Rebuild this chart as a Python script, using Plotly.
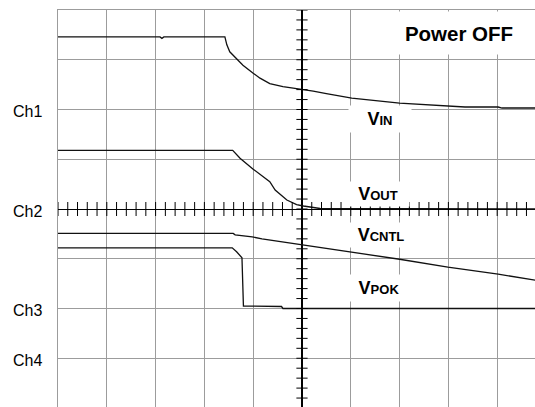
import numpy as np
import plotly.graph_objects as go

# time / level in scope divisions (x: 0 = trigger, y: 0 = center line)
vin_t = [-5.0, -2.91, -2.87, -2.83, -1.58, -1.54, -1.48, -1.34, -1.21, -1.0, -0.86,
         -0.66, -0.39, -0.18, 0.0, 0.23, 0.5, 1.02, 2.0, 2.73, 3.34, 4.02, 4.1, 4.78]
vin_v = [3.46, 3.46, 3.43, 3.46, 3.46, 3.30, 3.16, 3.03, 2.89, 2.73, 2.63,
         2.52, 2.46, 2.43, 2.41, 2.37, 2.32, 2.23, 2.13, 2.09, 2.05, 2.05, 2.03, 2.03]

vout_t = [-5.0, -1.42, -1.27, -1.0, -0.66, -0.55, -0.31, -0.11, 0.03, 0.37, 4.78]
vout_v = [1.18, 1.18, 1.02, 0.80, 0.55, 0.38, 0.18, 0.09, 0.06, 0.01, 0.0]

vcntl_t = [-5.0, -1.41, -1.37, -1.02, -0.82, -0.41, 0.0, 1.02, 2.0, 2.99, 4.02, 4.78]
vcntl_v = [-0.49, -0.49, -0.52, -0.56, -0.60, -0.66, -0.72, -0.86, -1.01, -1.17, -1.31, -1.43]

vpok_t = [-5.0, -1.43, -1.34, -1.24, -1.23, -1.2, -0.42, -0.39, 4.78]
vpok_v = [-0.78, -0.78, -0.86, -0.96, -0.98, -1.95, -1.96, -2.0, -2.0]

channels = ["Ch1", "Ch2", "Ch3", "Ch4"]
channel_levels = [2, 0, -2, -3]

FONT = "Liberation Sans, Arial, sans-serif"
GRID = "#9c9c9c"

fig = go.Figure()

for t, v in [(vin_t, vin_v), (vout_t, vout_v), (vcntl_t, vcntl_v), (vpok_t, vpok_v)]:
    fig.add_trace(go.Scatter(x=t, y=v, mode="lines",
                             line=dict(color="#111111", width=1.3), hoverinfo="skip"))

# minor ticks on the center cross
tx = np.arange(-5, 4.8, 0.2)
ty = np.arange(-4, 4.01, 0.2)
fig.add_trace(go.Scatter(x=tx, y=np.zeros_like(tx), mode="markers", hoverinfo="skip",
                         marker=dict(symbol="line-ns", size=10,
                                     line=dict(color="black", width=1))))
fig.add_trace(go.Scatter(x=np.zeros_like(ty), y=ty, mode="markers", hoverinfo="skip",
                         marker=dict(symbol="line-ew", size=8,
                                     line=dict(color="black", width=1))))

fig.update_xaxes(range=[-5, 4.775], dtick=1, tick0=0, showgrid=True, gridcolor=GRID,
                 gridwidth=1, zeroline=True, zerolinecolor="black", zerolinewidth=1.6,
                 showticklabels=False, ticks="", side="top", showline=True,
                 linecolor=GRID, linewidth=1, fixedrange=True)
fig.update_yaxes(range=[-3.98, 4], dtick=1, tick0=0, showgrid=True, gridcolor=GRID,
                 gridwidth=1, zeroline=True, zerolinecolor="black", zerolinewidth=1.4,
                 showticklabels=False, ticks="", showline=True,
                 linecolor=GRID, linewidth=1, fixedrange=True)

for name, lvl in zip(channels, channel_levels):
    fig.add_annotation(x=-5, y=lvl, text=name, showarrow=False, xanchor="right",
                       xshift=-14, yshift=-2, font=dict(family=FONT, size=16, color="black"))

labels = [
    ("IN", 1.6, 1.81, 26),
    ("OUT", 1.56, 0.30, 24),
    ("CNTL", 1.62, -0.52, 24),
    ("POK", 1.57, -1.58, 26),
]
for sub, x, y, h in labels:
    fig.add_annotation(x=x, y=y, showarrow=False, bgcolor="white", borderpad=0,
                       width=62, height=h,
                       text="<b>V<span style='font-size:13px'>%s</span></b>" % sub,
                       font=dict(family=FONT, size=18, color="black"))

fig.add_annotation(x=3.21, y=3.54, text="<b>Power OFF</b>", showarrow=False,
                   bgcolor="white", borderpad=0, width=150, height=42,
                   font=dict(family=FONT, size=20.5, color="black"))

fig.update_layout(width=535, height=407, margin=dict(l=58, r=0, t=10, b=0),
                  paper_bgcolor="white", plot_bgcolor="white", showlegend=False)

fig.write_html("out.html", config={"displayModeBar": False},
               post_script="document.body.style.margin='0';"
                           "document.body.style.overflow='hidden';")
